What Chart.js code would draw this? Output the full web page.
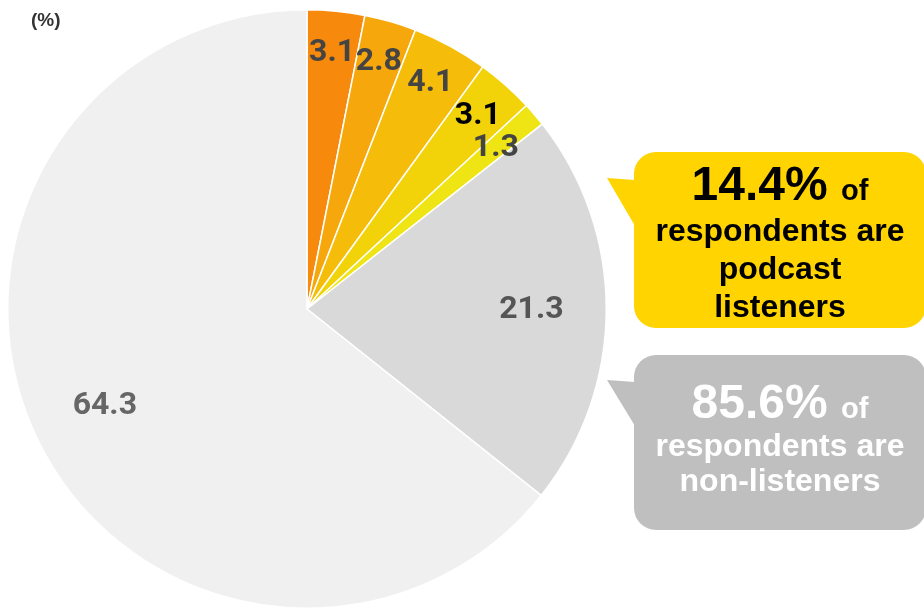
<!DOCTYPE html>
<html>
<head>
<meta charset="utf-8">
<script src="https://cdn.jsdelivr.net/npm/chart.js@4"></script>
<style>
  html, body { margin: 0; padding: 0; background: #fff; }
  #wrap { position: relative; width: 924px; height: 613px; overflow: hidden; }
  #chart { position: absolute; left: 0; top: 0; }
  .unit { position: absolute; left: 31px; top: 9px; font: bold 19px "Liberation Sans", Arial, sans-serif; color: #333; }
  .box { position: absolute; left: 634px; width: 292px; border-radius: 22px; }
  .tail { position: absolute; left: 607px; width: 28px; clip-path: polygon(0 0, 100% 2px, 100% 100%); }
  .line { position: absolute; left: 634px; width: 292px; text-align: center; font-family: "Liberation Sans", Arial, sans-serif; font-weight: bold; white-space: nowrap; }
  .big { font-size: 48px; }
  .of { font-size: 29px; }
  .yel { background: #ffd400; }
  .gry { background: #bfbfbf; }
</style>
</head>
<body>
<div id="wrap">
  <canvas id="chart" width="924" height="613"></canvas>
  <div class="unit">(%)</div>

  <div class="tail yel" style="top:178px;height:48px"></div>
  <div class="box yel" style="top:152px;height:176px"></div>
  <div class="line" style="top:157px;line-height:54px;color:#000"><span class="big">14.4% </span><span class="of">of</span></div>
  <div class="line" style="top:211px;line-height:38px;font-size:32px;color:#000">respondents are</div>
  <div class="line" style="top:249px;line-height:38px;font-size:32px;color:#000">podcast</div>
  <div class="line" style="top:287px;line-height:38px;font-size:32px;color:#000">listeners</div>

  <div class="tail gry" style="top:380px;height:46px"></div>
  <div class="box gry" style="top:355px;height:175px"></div>
  <div class="line" style="top:375px;line-height:54px;color:#fff"><span class="big">85.6% </span><span class="of">of</span></div>
  <div class="line" style="top:426px;line-height:38px;font-size:32px;color:#fff">respondents are</div>
  <div class="line" style="top:461px;line-height:38px;font-size:32px;color:#fff">non-listeners</div>
</div>
<script>
const categories = ['Listener 1', 'Listener 2', 'Listener 3', 'Listener 4', 'Listener 5', 'Non-listener A', 'Non-listener B'];
const shares = [3.1, 2.8, 4.1, 3.1, 1.3, 21.3, 64.3];

const sliceColors = ['#f78a0c', '#f6a70c', '#f5bd0a', '#f2d30a', '#efe414', '#d9d9d9', '#f0f0f0'];
const labelColors = ['#444', '#444', '#444', '#000', '#444', '#555', '#666'];

// value labels inside the slices
const sliceLabels = {
    id: 'sliceLabels',
    afterDatasetsDraw(chart) {
        const ctx = chart.ctx;
        const meta = chart.getDatasetMeta(0);
        ctx.save();
        ctx.font = 'bold 32px Roboto, sans-serif';
        ctx.textAlign = 'center';
        ctx.textBaseline = 'middle';
        meta.data.forEach((arc, i) => {
            const v = shares[i];
            const mid = (arc.startAngle + arc.endAngle) / 2;
            let f = v < 10 ? 0.86 : 0.75;
            if (v < 2) f = 0.83; // thin slice, label sits a bit further in
            const r = arc.outerRadius * f;
            ctx.fillStyle = labelColors[i];
            ctx.fillText(v.toFixed(1), arc.x + Math.cos(mid) * r, arc.y + Math.sin(mid) * r);
        });
        ctx.restore();
    }
};

new Chart(document.getElementById('chart'), {
    type: 'pie',
    data: {
        labels: categories,
        datasets: [{
            data: shares,
            backgroundColor: sliceColors,
            borderColor: '#fff',
            borderWidth: 1.5
        }]
    },
    options: {
        responsive: false,
        animation: false,
        layout: { padding: { left: 7, top: 9, right: 317, bottom: 4 } },
        plugins: {
            legend: { display: false },
            tooltip: { enabled: false }
        }
    },
    plugins: [sliceLabels]
});
</script>
</body>
</html>
